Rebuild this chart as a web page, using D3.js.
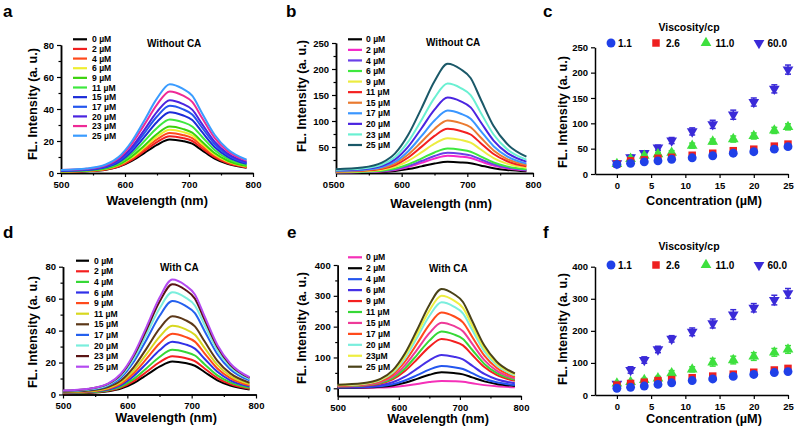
<!DOCTYPE html>
<html>
<head>
<meta charset="utf-8">
<script src="https://d3js.org/d3.v7.min.js"></script>
<style>
body { margin: 0; background: #fff; }
svg { font-family: Arial, "Liberation Sans", Helvetica, sans-serif; }
</style>
</head>
<body>
<script>

// ---- data ----
var wavelengths = [500, 540, 570, 590, 610, 630, 650, 670, 690, 705, 720, 740, 760, 790];
var concLabels = ["0 µM", "2 µM", "4 µM", "6 µM", "9 µM", "11 µM", "15 µM", "17 µM", "20 µM", "23 µM", "25 µM"];
var concLabelsE = ["0 µM", "2 µM", "4 µM", "6 µM", "9 µM", "11 µM", "15 µM", "17 µM", "20 µM", "23µM", "25 µM"];

// a: without CA, low viscosity
var spectraA = [
  [0.7, 1.1, 2.0, 3.8, 7.4, 12.4, 17.6, 21.0, 20.0, 18.3, 14.3, 9.0, 5.7, 3.2],
  [0.8, 1.2, 2.2, 4.1, 8.1, 13.6, 19.3, 23.0, 21.9, 20.0, 15.6, 9.9, 6.2, 3.5],
  [0.9, 1.3, 2.4, 4.5, 8.8, 14.8, 21.0, 25.0, 23.8, 21.8, 17.0, 10.8, 6.8, 3.8],
  [0.9, 1.4, 2.6, 4.9, 9.5, 15.9, 22.7, 27.0, 25.7, 23.5, 18.4, 11.6, 7.3, 4.1],
  [1.0, 1.5, 2.8, 5.2, 10.2, 17.1, 24.4, 29.0, 27.6, 25.2, 19.7, 12.5, 7.8, 4.4],
  [1.2, 1.7, 3.2, 6.0, 11.7, 19.8, 28.1, 33.5, 31.8, 29.1, 22.8, 14.4, 9.0, 5.0],
  [1.3, 1.9, 3.6, 6.8, 13.3, 22.4, 31.9, 38.0, 36.1, 33.1, 25.8, 16.3, 10.3, 5.7],
  [1.5, 2.1, 4.0, 7.6, 14.7, 24.8, 35.3, 42.0, 39.9, 36.5, 28.6, 18.1, 11.3, 6.3],
  [1.6, 2.3, 4.3, 8.2, 15.9, 26.8, 38.2, 45.5, 43.2, 39.6, 30.9, 19.6, 12.3, 6.8],
  [1.8, 2.6, 4.8, 9.2, 17.9, 30.1, 42.8, 51.0, 48.5, 44.4, 34.7, 21.9, 13.8, 7.7],
  [1.9, 2.8, 5.3, 10.0, 19.4, 32.7, 46.6, 55.5, 52.7, 48.3, 37.7, 23.9, 15.0, 8.3]
];
// b: without CA, high viscosity
var spectraB = [
  [0.8, 1.1, 2.0, 3.9, 7.5, 12.7, 18.1, 21.5, 20.4, 18.7, 14.6, 9.2, 5.8, 3.2],
  [1.2, 1.7, 3.1, 5.9, 11.6, 19.5, 27.7, 33.0, 31.4, 28.7, 22.4, 14.2, 8.9, 5.0],
  [1.4, 2.0, 3.7, 7.0, 13.7, 23.0, 32.8, 39.0, 37.1, 33.9, 26.5, 16.8, 10.5, 5.9],
  [1.6, 2.4, 4.5, 8.5, 16.5, 27.7, 39.5, 47.0, 44.7, 40.9, 32.0, 20.2, 12.7, 7.1],
  [2.3, 3.4, 6.4, 12.1, 23.5, 39.5, 56.3, 67.0, 63.7, 58.3, 45.6, 28.8, 18.1, 10.1],
  [3.0, 4.3, 8.1, 15.3, 29.8, 50.2, 71.4, 85.0, 80.8, 74.0, 57.8, 36.6, 23.0, 12.8],
  [3.5, 5.1, 9.6, 18.2, 35.4, 59.6, 84.8, 101, 96.0, 87.9, 68.7, 43.4, 27.3, 15.2],
  [4.2, 6.0, 11.4, 21.6, 42.0, 70.8, 100.8, 120, 114, 104.4, 81.6, 51.6, 32.4, 18.0],
  [5.1, 7.3, 13.8, 26.1, 50.8, 85.6, 121.8, 145, 137.8, 126.2, 98.6, 62.4, 39.2, 21.8],
  [6.0, 8.6, 16.3, 31.0, 60.2, 101.5, 144.5, 172, 163.4, 149.6, 117.0, 74.0, 46.4, 25.8],
  [7.4, 10.5, 20.0, 37.8, 73.5, 123.9, 176.4, 210, 199.5, 182.7, 142.8, 90.3, 56.7, 31.5]
];
// d: with CA, low viscosity
var spectraD = [
  [0.7, 1.0, 2.0, 3.7, 7.2, 12.2, 17.4, 20.7, 19.7, 18.0, 14.1, 8.9, 5.6, 3.1],
  [0.8, 1.2, 2.3, 4.3, 8.4, 14.2, 20.2, 24.0, 22.8, 20.9, 16.3, 10.3, 6.5, 3.6],
  [1.0, 1.4, 2.7, 5.0, 9.8, 16.5, 23.5, 28.0, 26.6, 24.4, 19.0, 12.0, 7.6, 4.2],
  [1.2, 1.7, 3.1, 5.9, 11.6, 19.5, 27.7, 33.0, 31.4, 28.7, 22.4, 14.2, 8.9, 5.0],
  [1.3, 1.9, 3.6, 6.8, 13.3, 22.4, 31.9, 38.0, 36.1, 33.1, 25.8, 16.3, 10.3, 5.7],
  [1.5, 2.2, 4.1, 7.7, 15.1, 25.4, 36.1, 43.0, 40.9, 37.4, 29.2, 18.5, 11.6, 6.5],
  [1.7, 2.5, 4.7, 8.8, 17.2, 28.9, 41.2, 49.0, 46.6, 42.6, 33.3, 21.1, 13.2, 7.4],
  [2.0, 2.9, 5.6, 10.5, 20.5, 34.5, 49.1, 58.5, 55.6, 50.9, 39.8, 25.2, 15.8, 8.8],
  [2.2, 3.2, 6.1, 11.5, 22.4, 37.8, 53.8, 64.0, 60.8, 55.7, 43.5, 27.5, 17.3, 9.6],
  [2.4, 3.5, 6.6, 12.4, 24.2, 40.7, 58.0, 69.0, 65.6, 60.0, 46.9, 29.7, 18.6, 10.4],
  [2.5, 3.6, 6.8, 13.0, 25.2, 42.5, 60.5, 72.0, 68.4, 62.6, 49.0, 31.0, 19.4, 10.8]
];
// e: with CA, high viscosity
var spectraE = [
  [0.8, 1.2, 2.3, 4.3, 8.4, 14.2, 20.2, 24.0, 22.8, 20.9, 16.3, 10.3, 6.5, 3.6],
  [1.8, 2.6, 4.9, 9.4, 18.2, 30.7, 43.7, 52.0, 49.4, 45.2, 35.4, 22.4, 14.0, 7.8],
  [2.5, 3.6, 6.8, 13.0, 25.2, 42.5, 60.5, 72.0, 68.4, 62.6, 49.0, 31.0, 19.4, 10.8],
  [3.8, 5.4, 10.3, 19.4, 37.8, 63.7, 90.7, 108, 102.6, 94.0, 73.4, 46.4, 29.2, 16.2],
  [5.6, 8.0, 15.2, 28.8, 56.0, 94.4, 134.4, 160, 152, 139.2, 108.8, 68.8, 43.2, 24.0],
  [6.4, 9.2, 17.5, 33.1, 64.4, 108.6, 154.6, 184, 174.8, 160.1, 125.1, 79.1, 49.7, 27.6],
  [7.5, 10.7, 20.2, 38.3, 74.6, 125.7, 178.9, 213, 202.4, 185.3, 144.8, 91.6, 57.5, 32.0],
  [8.6, 12.3, 23.4, 44.3, 86.1, 145.1, 206.6, 246, 233.7, 214.0, 167.3, 105.8, 66.4, 36.9],
  [9.8, 14.0, 26.5, 50.2, 97.7, 164.6, 234.4, 279, 265.1, 242.7, 189.7, 120.0, 75.3, 41.9],
  [10.5, 15.0, 28.5, 54.0, 105.0, 177.0, 252.0, 300, 285.0, 261.0, 204.0, 129.0, 81.0, 45.0],
  [11.3, 16.1, 30.6, 58.0, 112.7, 190.0, 270.5, 322, 305.9, 280.1, 219.0, 138.5, 86.9, 48.3]
];

// c and f: intensity at 670 nm vs concentration
var concentrations = [0, 2, 4, 6, 8, 11, 14, 17, 20, 23, 25];
var viscosities = ["1.1", "2.6", "11.0", "60.0"];
var fluorC = [
  [19, 21, 24, 26, 29, 32, 36, 41, 44, 49, 54],
  [20, 26, 28, 31, 33, 37, 41, 46, 49, 55, 59],
  [20, 30, 36, 39, 42, 56, 64, 69, 75, 86, 93],
  [21, 33, 41, 52, 66, 84, 98, 117, 142, 168, 206]
];
var errC = [
  [2, 2, 2, 2, 2, 2, 3, 3, 3, 3, 3],
  [2, 2, 2, 2, 3, 3, 3, 3, 4, 4, 4],
  [2, 3, 3, 4, 4, 5, 5, 6, 6, 6, 6],
  [3, 4, 4, 5, 6, 7, 8, 9, 8, 8, 9]
];
var fluorF = [
  [21, 24, 28, 33, 38, 45, 50, 58, 64, 70, 73],
  [31, 36, 40, 45, 48, 54, 59, 65, 71, 78, 83],
  [36, 41, 47, 52, 68, 80, 102, 109, 120, 133, 142],
  [35, 78, 109, 142, 175, 197, 223, 251, 272, 296, 317]
];
var errF = [
  [3, 3, 3, 3, 3, 4, 4, 4, 4, 4, 4],
  [3, 3, 4, 4, 4, 4, 5, 5, 5, 5, 6],
  [4, 4, 5, 6, 8, 8, 12, 12, 12, 12, 12],
  [5, 10, 10, 10, 10, 12, 14, 15, 13, 15, 15]
];

var colorsA = ["#000000", "#f02020", "#ff4a1c", "#eeee30", "#3ad20c", "#3ee83e", "#1c2cd8", "#2456ee", "#4a24e0", "#ee2a96", "#3a9cff"];
var colorsB = ["#000000", "#f526c8", "#6a40e8", "#3ee83e", "#ecec40", "#f42020", "#ea7a30", "#3a96ff", "#4a24e0", "#6af0d2", "#1a5868"];
var colorsD = ["#000000", "#f42020", "#36d836", "#3030e8", "#ff4a1c", "#d8d820", "#5c3818", "#2460ee", "#7aeedd", "#5a1414", "#b44af0"];
var colorsE = ["#f530b8", "#000000", "#2456ee", "#4630e6", "#f42020", "#36d836", "#ee3a98", "#ff4a1c", "#7aeedd", "#eeee40", "#4a4218"];
var scatterColors = ["#2040e8", "#ee2020", "#3ee03e", "#3a2ad8"];

var FONT = "Arial, 'Liberation Sans', Helvetica, sans-serif";

var svg = d3.select("body").append("svg")
    .attr("width", 798)
    .attr("height", 433);

function styleAxis(g) {
  g.attr("font-family", FONT).attr("font-size", 9.5).attr("font-weight", "bold");
  g.select(".domain").attr("stroke-width", 1.5);
  g.selectAll(".tick line").attr("stroke-width", 1.2);
}

function panelLetter(t, x, y) {
  svg.append("text").attr("x", x).attr("y", y)
    .style("font-size", "17px").style("font-weight", "bold").text(t);
}

function axisTitles(o) {
  svg.append("text")
    .attr("x", o.xt[0]).attr("y", o.xt[1])
    .attr("text-anchor", "middle")
    .style("font-size", "12.7px").style("font-weight", "bold")
    .text(o.xTitle);
  svg.append("text")
    .attr("transform", "translate(" + o.yt[0] + "," + o.yt[1] + ") rotate(-90)")
    .attr("text-anchor", "middle")
    .style("font-size", "12.7px").style("font-weight", "bold")
    .text("FL. Intensity (a. u.)");
}

function spectraPanel(o) {
  var x = d3.scaleLinear().domain([500, 800]).range([o.x0, o.x1]);
  var y = d3.scaleLinear().domain(o.yDomain).range([o.yBottom, o.yTop]);

  // minor ticks
  svg.append("g").attr("transform", "translate(0," + o.yBottom + ")")
    .call(d3.axisBottom(x).tickValues([550, 650, 750]).tickSize(2.5).tickFormat("").tickSizeOuter(0))
    .call(styleAxis);
  svg.append("g").attr("transform", "translate(" + o.x0 + ",0)")
    .call(d3.axisLeft(y).tickValues(o.yMinor).tickSize(2.5).tickFormat("").tickSizeOuter(0))
    .call(styleAxis);

  svg.append("g").attr("transform", "translate(0," + o.yBottom + ")")
    .call(d3.axisBottom(x).tickValues([500, 600, 700, 800]).tickSize(4).tickPadding(4).tickSizeOuter(0))
    .call(styleAxis);
  svg.append("g").attr("transform", "translate(" + o.x0 + ",0)")
    .call(d3.axisLeft(y).tickValues(o.yTicks).tickSize(4).tickPadding(3).tickSizeOuter(0))
    .call(styleAxis);

  var line = d3.line()
    .x(function(d, i) { return x(wavelengths[i]); })
    .y(function(d) { return y(d); })
    .curve(d3.curveMonotoneX);

  svg.append("g").selectAll("path")
    .data(o.series)
    .enter().append("path")
      .attr("d", line)
      .attr("fill", "none")
      .attr("stroke", function(d, i) { return o.colors[i]; })
      .attr("stroke-width", 2);

  // legend
  var leg = svg.append("g");
  o.labels.forEach(function(lab, i) {
    var yy = o.leg.y0 + i * o.leg.dy;
    leg.append("line")
      .attr("x1", o.leg.x1).attr("x2", o.leg.x2)
      .attr("y1", yy).attr("y2", yy)
      .attr("stroke", o.colors[i]).attr("stroke-width", 2.2);
    leg.append("text")
      .attr("x", o.leg.tx).attr("y", yy).attr("dy", "0.36em")
      .style("font-size", "8.6px").style("font-weight", "bold")
      .text(lab);
  });

  svg.append("text")
    .attr("x", o.cond[0]).attr("y", o.cond[1]).attr("dy", "0.36em")
    .style("font-size", "10px").style("font-weight", "bold")
    .text(o.condition);

  axisTitles(o);
  panelLetter(o.letter, o.lp[0], o.lp[1]);
  return { x: x, y: y };
}

function scatterPanel(o) {
  var x = d3.scaleLinear().domain([-3.2, 25]).range([o.x0, o.x1]);
  var y = d3.scaleLinear().domain(o.yDomain).range([o.yBottom, o.yTop]);

  svg.append("g").attr("transform", "translate(0," + o.yBottom + ")")
    .call(d3.axisBottom(x).tickValues([0, 5, 10, 15, 20, 25]).tickSize(4).tickPadding(4).tickSizeOuter(0))
    .call(styleAxis);
  svg.append("g").attr("transform", "translate(" + o.x0 + ",0)")
    .call(d3.axisLeft(y).tickValues(o.yTicks).tickSize(4).tickPadding(3).tickSizeOuter(0))
    .call(styleAxis);

  var shapes = [d3.symbolCircle, d3.symbolSquare, d3.symbolTriangle, d3.symbolTriangle];
  var sizes = [62, 56, 50, 50];
  var rot = [0, 0, 0, 180];

  // draw high viscosity first so low viscosity markers sit on top
  [3, 2, 1, 0].forEach(function(s) {
    var g = svg.append("g");
    var col = scatterColors[s];
    concentrations.forEach(function(c, i) {
      var v = o.values[s][i], e = o.errors[s][i];
      var cx = x(c);
      g.append("line").attr("x1", cx).attr("x2", cx)
        .attr("y1", y(v - e)).attr("y2", y(v + e))
        .attr("stroke", col).attr("stroke-width", 1.5);
      [v - e, v + e].forEach(function(w) {
        g.append("line").attr("x1", cx - 3).attr("x2", cx + 3)
          .attr("y1", y(w)).attr("y2", y(w))
          .attr("stroke", col).attr("stroke-width", 1.5);
      });
      g.append("path")
        .attr("d", d3.symbol().type(shapes[s]).size(sizes[s]))
        .attr("transform", "translate(" + cx + "," + y(v) + ") rotate(" + rot[s] + ")")
        .attr("fill", col);
    });
  });

  // legend
  svg.append("text")
    .attr("x", 689).attr("y", o.legTitleY).attr("dy", "0.36em")
    .attr("text-anchor", "middle")
    .style("font-size", "10.5px").style("font-weight", "bold")
    .text("Viscosity/cp");
  var mx = [611, 656, 706, 759], tx = [618, 666, 715.5, 767.5];
  viscosities.forEach(function(v, s) {
    svg.append("path")
      .attr("d", d3.symbol().type(shapes[s]).size(sizes[s]))
      .attr("transform", "translate(" + mx[s] + "," + o.legY + ") rotate(" + rot[s] + ")")
      .attr("fill", scatterColors[s]);
    svg.append("text")
      .attr("x", tx[s]).attr("y", o.legY).attr("dy", "0.36em")
      .style("font-size", "10px").style("font-weight", "bold")
      .text(v);
  });

  axisTitles(o);
  panelLetter(o.letter, o.lp[0], o.lp[1]);
}

spectraPanel({
  letter: "a", lp: [3, 17],
  x0: 61, x1: 253, yBottom: 173, yTop: 45,
  yDomain: [0, 80], yTicks: [0, 20, 40, 60, 80], yMinor: [10, 30, 50, 70],
  series: spectraA, colors: colorsA, labels: concLabels,
  leg: { x1: 73, x2: 87, tx: 92, y0: 39.3, dy: 9.64 },
  condition: "Without CA", cond: [147, 43],
  xTitle: "Wavelength (nm)", xt: [157, 205], yt: [37, 104]
});

spectraPanel({
  letter: "b", lp: [286, 17],
  x0: 336, x1: 533, yBottom: 173, yTop: 43,
  yDomain: [0, 250], yTicks: [50, 100, 150, 200, 250], yMinor: [25, 75, 125, 175, 225],
  series: spectraB, colors: colorsB, labels: concLabels,
  leg: { x1: 348, x2: 362, tx: 366, y0: 39.3, dy: 10.57 },
  condition: "Without CA", cond: [426, 42.7],
  xTitle: "Wavelength (nm)", xt: [441, 208], yt: [306, 96]
});
// the y-axis zero label sits beside the first wavelength label
svg.append("text")
  .attr("x", 328).attr("y", 185).attr("dy", "0.36em")
  .attr("text-anchor", "end")
  .style("font-size", "9.5px").style("font-weight", "bold")
  .text("0");

scatterPanel({
  letter: "c", lp: [543, 17],
  x0: 595, x1: 788, yBottom: 174, yTop: 47.3,
  yDomain: [0, 250], yTicks: [0, 50, 100, 150, 200, 250],
  values: fluorC, errors: errC,
  legTitleY: 27, legY: 43,
  xTitle: "Concentration (µM)", xt: [704, 205], yt: [567, 112]
});

spectraPanel({
  letter: "d", lp: [3, 238],
  x0: 63, x1: 256, yBottom: 394.5, yTop: 266.7,
  yDomain: [0, 80], yTicks: [0, 20, 40, 60, 80], yMinor: [10, 30, 50, 70],
  series: spectraD, colors: colorsD, labels: concLabels,
  leg: { x1: 76, x2: 89, tx: 94, y0: 260.7, dy: 10.6 },
  condition: "With CA", cond: [160, 267.7],
  xTitle: "Wavelength (nm)", xt: [166, 422], yt: [37, 332]
});

spectraPanel({
  letter: "e", lp: [287, 238],
  x0: 337.7, x1: 521, yBottom: 396, yTop: 265,
  yDomain: [-25, 400], yTicks: [0, 100, 200, 300, 400], yMinor: [50, 150, 250, 350],
  series: spectraE, colors: colorsE, labels: concLabelsE,
  leg: { x1: 348, x2: 362, tx: 366, y0: 257.3, dy: 10.94 },
  condition: "With CA", cond: [429, 268.3],
  xTitle: "Wavelength (nm)", xt: [438, 423], yt: [306, 328]
});

scatterPanel({
  letter: "f", lp: [543, 238],
  x0: 595, x1: 788, yBottom: 395, yTop: 266.7,
  yDomain: [0, 400], yTicks: [0, 100, 200, 300, 400],
  values: fluorF, errors: errF,
  legTitleY: 246, legY: 265,
  xTitle: "Concentration (µM)", xt: [704, 423], yt: [567, 329]
});

</script>
</body>
</html>
